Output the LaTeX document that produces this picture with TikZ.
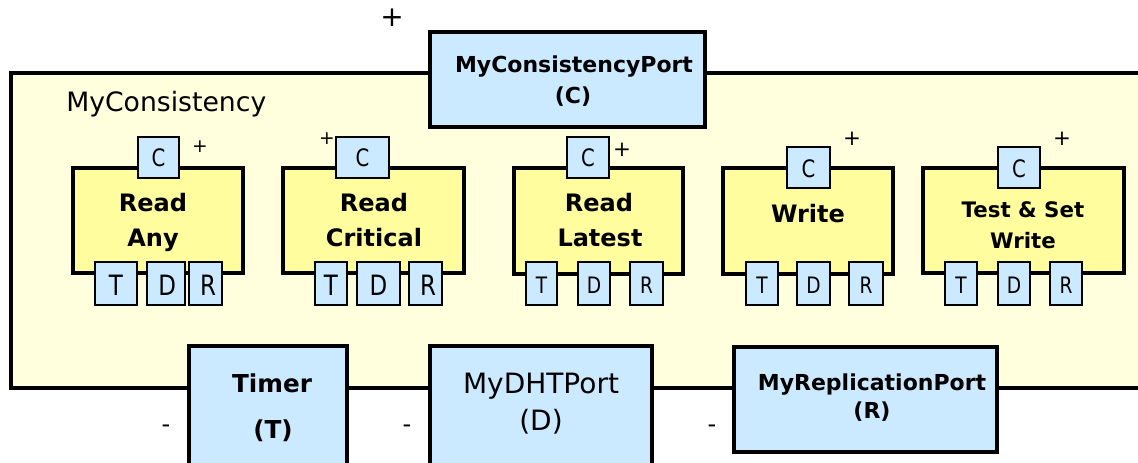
\documentclass[tikz,border=0pt]{standalone}
\usepackage{graphicx}
\usepackage{fontspec}
\setmainfont{DejaVu Sans}
\usetikzlibrary{fit}
\definecolor{portblue}{RGB}{204,234,255}
\definecolor{shellyellow}{RGB}{255,255,221}
\definecolor{compyellow}{RGB}{255,253,158}
% slightly condensed glyphs for the port letters
\newcommand\slim[1]{\scalebox{0.82}[1]{#1}}
\tikzset{
  shell/.style={draw=black, line width=2.3pt, fill=shellyellow, inner sep=0pt},
  bigport/.style={draw=black, line width=2.6pt, fill=portblue, inner sep=0pt},
  comp/.style={draw=black, line width=2.3pt, fill=compyellow, inner sep=0pt},
  smallport/.style={draw=black, line width=2pt, fill=portblue, inner sep=0pt},
  txt/.style={inner sep=0pt},
  titlefont/.style={font=\fontsize{20}{24}\selectfont},
  portbold/.style={font=\fontsize{16.5}{20}\selectfont\bfseries},
  compbold/.style={font=\fontsize{18}{22}\selectfont\bfseries},
  compsmall/.style={font=\fontsize{16}{19}\selectfont\bfseries},
  cletter/.style={txt, font=\fontsize{18}{20}\selectfont},
  bigletter/.style={txt, font=\fontsize{21}{24}\selectfont},
  smallletter/.style={txt, font=\fontsize{17}{20}\selectfont},
  plusbig/.style={txt, font=\fontsize{21}{24}\selectfont},
  plussmall/.style={txt, font=\fontsize{14}{16}\selectfont},
  minus/.style={txt, font=\fontsize{18}{20}\selectfont},
}
\begin{document}
\begin{tikzpicture}[x=0.75pt, y=-0.75pt]
\clip (0,0) rectangle (1138,463);

% composite component shell
\node[shell, fit={(11,73) (1170,388)}] (shell) {};
\node[txt, titlefont, anchor=base west] (shell-name) at (66,112) {MyConsistency};

% provided port on top
\node[bigport, fit={(430,32) (705,127)}] (cport) {};
\node[txt, portbold, anchor=base] (cport-l1) at (574,73) {MyConsistencyPort};
\node[txt, portbold] (cport-l2) at (573,97) {(C)};
\node[plusbig] (cport-sign) at (392,18) {+};

% required ports at the bottom
\node[bigport, fit={(189,346) (347,480)}] (tport) {};
\node[txt, font=\fontsize{18.5}{22}\selectfont\bfseries, anchor=base] (tport-l1) at (272,392) {Timer};
\node[txt, font=\fontsize{18.5}{22}\selectfont\bfseries] (tport-l2) at (273,431) {(T)};
\node[minus, anchor=base] (tport-sign) at (166,432) {-};

\node[bigport, fit={(430,346) (652,480)}] (dport) {};
\node[txt, font=\fontsize{21}{24}\selectfont, anchor=base] (dport-l1) at (541,393) {MyDHTPort};
\node[txt, font=\fontsize{21}{24}\selectfont] (dport-l2) at (541,422) {(D)};
\node[minus, anchor=base] (dport-sign) at (407,432) {-};

\node[bigport, fit={(734,347) (997,452)}] (rport) {};
\node[txt, portbold, anchor=base] (rport-l1) at (872,390) {MyReplicationPort};
\node[txt, portbold] (rport-l2) at (872,412) {(R)};
\node[minus, anchor=base] (rport-sign) at (712,432) {-};

% Read Any
\node[comp, fit={(73,168) (243,273)}] (ra) {};
\node[smallport, fit={(138,137) (179,178)}] (ra-c) {};
\node[cletter] at (ra-c.center) {\slim{C}};
\node[txt, compbold, anchor=base] (ra-l1) at (153,212) {Read};
\node[txt, compbold, anchor=base] (ra-l2) at (153,247) {Any};
\node[smallport, fit={(95,262) (137,305)}] (ra-t) {};
\node[smallport, fit={(147,262) (185,305)}] (ra-d) {};
\node[smallport, fit={(189,262) (222,305)}] (ra-r) {};
\node[bigletter] (ra-tl) at ([yshift=-1.5pt]ra-t.center) {\slim{T}};
\node[bigletter] (ra-dl) at ([yshift=-1.5pt,xshift=1pt]ra-d.center) {\slim{D}};
\node[bigletter] (ra-rl) at ([yshift=-1.5pt,xshift=2pt]ra-r.center) {\slim{R}};
\node[plussmall] (ra-sign) at (200,147) {+};

% Read Critical
\node[comp, fit={(283,168) (464,273)}] (rc) {};
\node[smallport, fit={(336,137) (389,178)}] (rc-c) {};
\node[cletter] at (rc-c.center) {\slim{C}};
\node[txt, compbold, anchor=base] (rc-l1) at (374,212) {Read};
\node[txt, compbold, anchor=base] (rc-l2) at (374,247) {Critical};
\node[smallport, fit={(315,262) (347,305)}] (rc-t) {};
\node[smallport, fit={(357,262) (400,305)}] (rc-d) {};
\node[smallport, fit={(409,262) (442,305)}] (rc-r) {};
\node[bigletter] (rc-tl) at ([yshift=-1.5pt]rc-t.center) {\slim{T}};
\node[bigletter] (rc-dl) at ([yshift=-1.5pt]rc-d.center) {\slim{D}};
\node[bigletter] (rc-rl) at ([yshift=-1.5pt,xshift=2pt]rc-r.center) {\slim{R}};
\node[plussmall] (rc-sign) at (327,139) {+};

% Read Latest
\node[comp, fit={(514,168) (683,274)}] (rl) {};
\node[smallport, fit={(567,137) (609,178)}] (rl-c) {};
\node[cletter] at (rl-c.center) {\slim{C}};
\node[txt, compbold, anchor=base] (rl-l1) at (599,212) {Read};
\node[txt, compbold, anchor=base] (rl-l2) at (600,247) {Latest};
\node[smallport, fit={(526,262) (557,305)}] (rl-t) {};
\node[smallport, fit={(578,262) (610,305)}] (rl-d) {};
\node[smallport, fit={(630,262) (663,305)}] (rl-r) {};
\node[smallletter] (rl-tl) at ([yshift=-1pt]rl-t.center) {\slim{T}};
\node[smallletter] (rl-dl) at ([yshift=-1pt]rl-d.center) {\slim{D}};
\node[smallletter] (rl-rl) at ([yshift=-1pt]rl-r.center) {\slim{R}};
\node[plussmall, font=\fontsize{16}{18}\selectfont] (rl-sign) at (622,150) {+};

% Write
\node[comp, fit={(723,168) (893,274)}] (wr) {};
\node[smallport, fit={(787,147) (830,188)}] (wr-c) {};
\node[cletter] at ([yshift=-1pt]wr-c.center) {\slim{C}};
\node[txt, compbold, anchor=base] (wr-l1) at (808,223) {Write};
\node[smallport, fit={(746,262) (778,305)}] (wr-t) {};
\node[smallport, fit={(797,262) (830,305)}] (wr-d) {};
\node[smallport, fit={(849,262) (883,305)}] (wr-r) {};
\node[smallletter] (wr-tl) at ([yshift=-1pt]wr-t.center) {\slim{T}};
\node[smallletter] (wr-dl) at ([yshift=-1pt]wr-d.center) {\slim{D}};
\node[smallletter] (wr-rl) at ([yshift=-1pt]wr-r.center) {\slim{R}};
\node[plussmall, font=\fontsize{16}{18}\selectfont] (wr-sign) at (852,139) {+};

% Test & Set Write
\node[comp, fit={(923,168) (1124,273)}] (ts) {};
\node[smallport, fit={(998,147) (1040,188)}] (ts-c) {};
\node[cletter] at ([yshift=-1pt]ts-c.center) {\slim{C}};
\node[txt, compsmall, anchor=base] (ts-l1) at (1023,218) {Test \& Set};
\node[txt, compsmall, anchor=base] (ts-l2) at (1023,248) {Write};
\node[smallport, fit={(945,262) (977,305)}] (ts-t) {};
\node[smallport, fit={(998,262) (1030,305)}] (ts-d) {};
\node[smallport, fit={(1050,262) (1082,305)}] (ts-r) {};
\node[smallletter] (ts-tl) at ([yshift=-1pt]ts-t.center) {\slim{T}};
\node[smallletter] (ts-dl) at ([yshift=-1pt]ts-d.center) {\slim{D}};
\node[smallletter] (ts-rl) at ([yshift=-1pt]ts-r.center) {\slim{R}};
\node[plussmall, font=\fontsize{16}{18}\selectfont] (ts-sign) at (1062,139) {+};
\end{tikzpicture}
\end{document}
